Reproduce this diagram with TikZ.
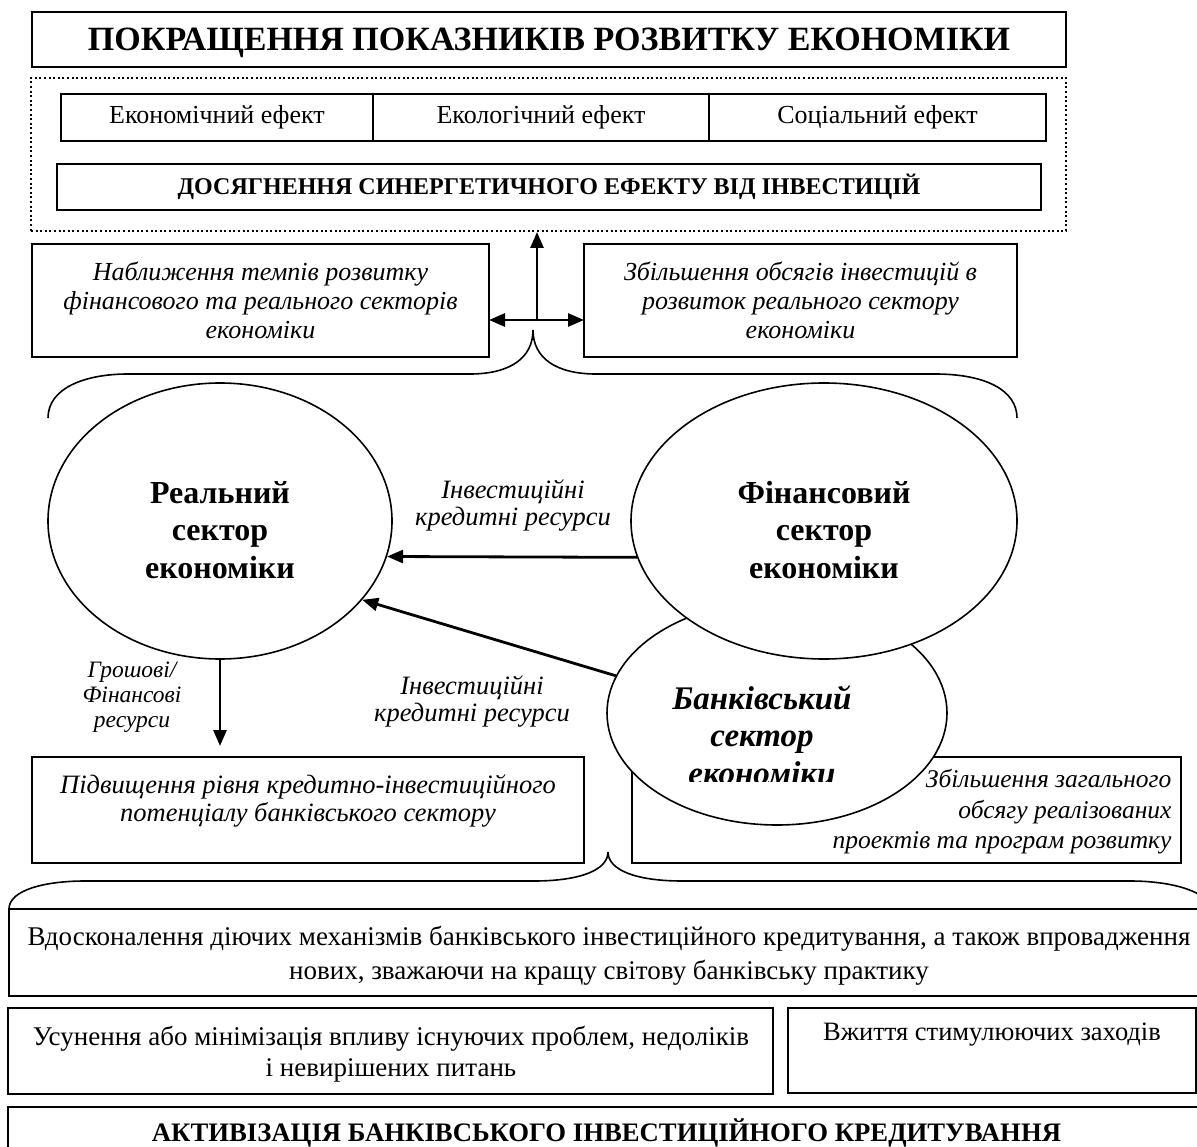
\documentclass[tikz,border=0pt]{standalone}
\usepackage{fontspec}
\setmainfont{Liberation Serif}
\usetikzlibrary{shapes.geometric,arrows.meta,calc}
\newcommand{\myfs}[2]{\fontsize{#1}{#2}\selectfont}
\begin{document}
\begin{tikzpicture}[x=1pt,y=-1pt,
  box/.style={draw,line width=1.5pt,inner sep=0pt,outer sep=0pt},
  dotbox/.style={draw,line width=2pt,dash pattern=on 2pt off 2.6pt,inner sep=0pt},
  arr/.style={line width=2.8pt,-{Triangle[length=16pt,width=13pt]}},
  ell/.style={draw,ellipse,line width=1.6pt,fill=white,inner sep=0pt},
  brace/.style={line width=1.6pt},
  regtxt/.style={font=\myfs{26}{31},align=center},
  ittxt/.style={font=\itshape\myfs{26}{29},align=center},
  elltxt/.style={font=\bfseries\myfs{32}{37.5},align=center},
]
\useasboundingbox (0,0) rectangle (1197,1147);
\clip (0,0) rectangle (1197,1147);
\fill[white] (0,0) rectangle (1197,1147);

% top part
\node[box,minimum width=1034,minimum height=55,text height=22.5pt,text depth=0pt,font=\bfseries\myfs{34}{38}] (title) at (549,39.5) {ПОКРАЩЕННЯ ПОКАЗНИКІВ РОЗВИТКУ ЕКОНОМІКИ};
\node[dotbox,minimum width=1035,minimum height=153] (dots) at (548.5,154.5) {};
\node[box,regtxt,minimum width=312,minimum height=47] (eco) at (217,117.5) {Економічний ефект};
\node[box,regtxt,minimum width=336,minimum height=47] (ecol) at (541,117.5) {Екологічний ефект};
\node[box,regtxt,minimum width=337,minimum height=47] (soc) at (877.5,117.5) {Соціальний ефект};
\node[box,minimum width=984,minimum height=46,font=\bfseries\myfs{24}{28}] (syn) at (549,187) {ДОСЯГНЕННЯ СИНЕРГЕТИЧНОГО ЕФЕКТУ ВІД ІНВЕСТИЦІЙ};

\node[box,ittxt,minimum width=457,minimum height=113] (nabl) at (260.5,300.5) {Наближення темпів розвитку\\фінансового та реального секторів\\економіки};
\node[box,ittxt,minimum width=433,minimum height=113] (zbil) at (800.5,300.5) {Збільшення обсягів інвестицій в\\розвиток реального сектору\\економіки};

\coordinate (junc) at (537,320);
\draw[arr] (junc) -- (junc |- dots.south);
\draw[arr] (junc) -- (junc -| nabl.east);
\draw[arr] (junc) -- (junc -| zbil.west);

\draw[brace] (48,418) .. controls (48,388) and (85,374) .. (128,374) -- (470,374)
  .. controls (510,374) and (533,358) .. (533,330)
  .. controls (533,358) and (556,374) .. (596,374) -- (935,374)
  .. controls (985,374) and (1017,390) .. (1017,418);

% ellipses
\node[box,minimum width=549,minimum height=106] (zbzag) at (906.5,810) {};
\node[ell,minimum width=340,minimum height=224] (bank) at (777,713) {};
\begin{scope}
\clip (600,600) rectangle (950,781);
\node[font=\bfseries\itshape\myfs{33}{37.5},align=center] at (762,735) {Банківський\\сектор\\економіки};
\end{scope}
\node[ell,minimum width=386,minimum height=276] (fin) at (824,521) {};
\node[elltxt] at (824,530) {Фінансовий\\сектор\\економіки};
\node[ell,minimum width=344,minimum height=276] (real) at (220,521) {};
\node[elltxt] at (220,530) {Реальний\\сектор\\економіки};

\draw[arr] (fin.191.6) -- (real.-12.9);
\draw[arr] (bank.167) -- (real.-29.5);
\node[ittxt,font=\itshape\myfs{26.5}{27}] (lab1) at (513,505.5) {Інвестиційні\\кредитні ресурси};
\node[ittxt,font=\itshape\myfs{26.5}{27}] (lab2) at (472,701) {Інвестиційні\\кредитні ресурси};
\node[ittxt,font=\itshape\myfs{23.5}{25}] (lab3) at (132,697) {Грошові/\\Фінансові\\ресурси};

\node[box,minimum width=552,minimum height=106] (pidv) at (308,810) {};
\node[ittxt,font=\itshape\myfs{26.5}{28.5}] at (308,801) {Підвищення рівня кредитно-інвестиційного\\потенціалу банківського сектору};
\draw[arr,shorten >=11pt] (real.south) -- (real.south |- pidv.north);
\node[font=\itshape\myfs{25.5}{30.5},align=right,anchor=east] at (1175,812) {Збільшення загального\\обсягу реалізованих\\проектів та програм розвитку};

% bottom part
\draw[brace] (9,909) .. controls (9,890) and (45,881) .. (85,881) -- (534,881)
  .. controls (580,881) and (608,870) .. (608,852)
  .. controls (608,870) and (636,881) .. (682,881) -- (1130,881)
  .. controls (1175,881) and (1210,893) .. (1210,909);

\node[box,minimum width=1196,minimum height=87] (vdosk) at (607,952.5) {};
\node[font=\myfs{27}{34},align=center] at (609,955.5) {Вдосконалення діючих механізмів банківського інвестиційного кредитування, а також впровадження\\нових, зважаючи на кращу світову банківську практику};
\node[box,minimum width=765,minimum height=86] (usun) at (390.5,1051) {};
\node[font=\myfs{27}{31},align=center] at (391,1054) {Усунення або мінімізація впливу існуючих проблем, недоліків\\і невирішених питань};
\node[box,minimum width=408,minimum height=85] (vzhyt) at (992,1050.5) {};
\node[font=\myfs{26.5}{31}] at (992,1035) {Вжиття стимулюючих заходів};
\node[box,minimum width=1197,minimum height=52,font=\bfseries\myfs{26.7}{30}] (aktyv) at (606.5,1133) {АКТИВІЗАЦІЯ БАНКІВСЬКОГО ІНВЕСТИЦІЙНОГО КРЕДИТУВАННЯ};
\end{tikzpicture}
\end{document}
